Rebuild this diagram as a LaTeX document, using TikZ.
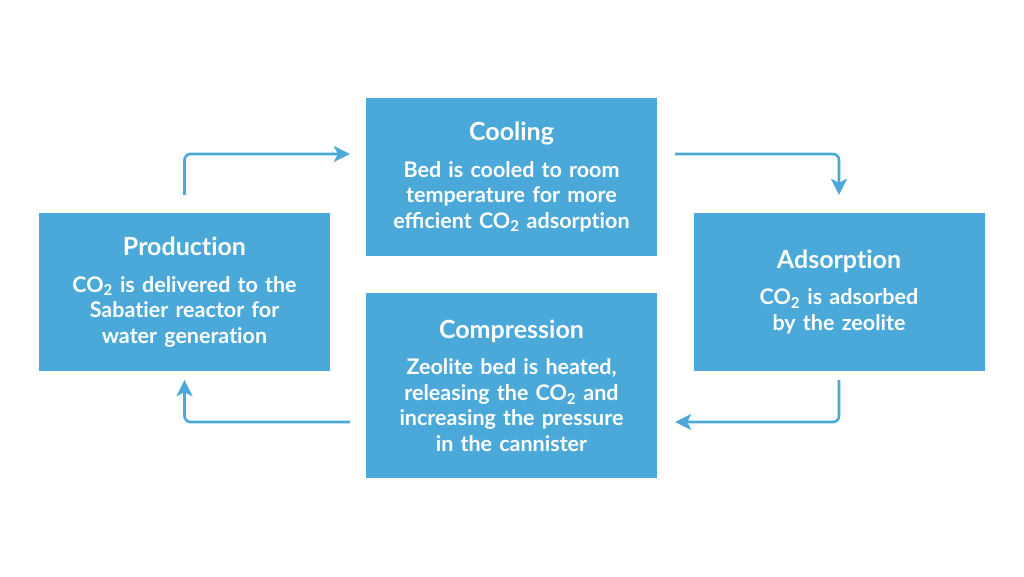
\documentclass[tikz,border=0pt]{standalone}
\usepackage{fontspec}
\setmainfont{Lato}
\usetikzlibrary{arrows.meta}
\definecolor{cycleblue}{HTML}{4BA9DA}
\newcommand\stagetitle[1]{{\fontsize{25}{30}\selectfont #1}\\[11pt]}
\newcommand\tI{t\kern0pt i}

\begin{document}
\begin{tikzpicture}[x=1pt,y=-1pt,
  stage/.style={fill=cycleblue, text=white, font=\bfseries\fontsize{21.5}{25.5}\selectfont,
    align=center, inner sep=0pt, text width=285pt, minimum width=291pt},
  flow/.style={draw=cycleblue, line width=2.6pt, rounded corners=6pt,
    -{Stealth[length=16pt,width=16pt,inset=4pt]}}]

\useasboundingbox[fill=white] (0,0) rectangle (1024,576);

\node[stage, minimum height=158pt] (cooling) at (511.5,177)
  {\stagetitle{Cooling}Bed is cooled to room\\temperature for more\\efficient CO\textsubscript{2} adsorp\tI on};
\node[stage, minimum height=158pt] (production) at (184.5,292)
  {\stagetitle{Produc\tI on}CO\textsubscript{2} is delivered to the\\Saba\tI er reactor for\\water genera\tI on};
\node[stage, minimum height=158pt] (adsorption) at (839,292)
  {\stagetitle{Adsorp\tI on}CO\textsubscript{2} is adsorbed\\by the zeolite};
\node[stage, minimum height=185pt] (compression) at (511.5,385.5)
  {\stagetitle{Compression}Zeolite bed is heated,\\releasing the CO\textsubscript{2} and\\increasing the pressure\\in the cannister};

\draw[flow] ([yshift=18pt]production.north) |- ([xshift=-16pt,yshift=23pt]cooling.west);
\draw[flow] ([xshift=18pt,yshift=23pt]cooling.east) -| ([yshift=18pt]adsorption.north);
\draw[flow] ([yshift=-9pt]adsorption.south) |- ([xshift=18pt,yshift=-36.5pt]compression.east);
\draw[flow] ([xshift=-16pt,yshift=-36.5pt]compression.west) -| ([yshift=-9pt]production.south);

\end{tikzpicture}
\end{document}
